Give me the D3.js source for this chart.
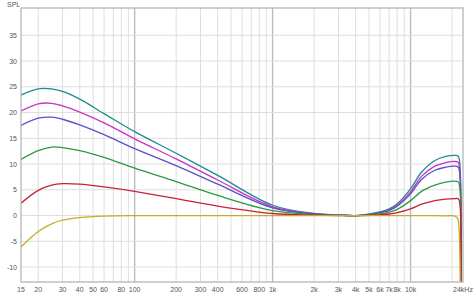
<!DOCTYPE html>
<html>
<head>
<meta charset="utf-8">
<script src="https://cdn.jsdelivr.net/npm/d3@7"></script>
<style>
  body { margin: 0; background: #fff; }
  text { font-family: "Liberation Sans", Arial, sans-serif; font-size: 7px; fill: #555; }
</style>
</head>
<body>
<div id="svg-div"></div>
<script>
// frequencies the curves were read at (Hz)
var freqs = [15, 20, 25, 30, 40, 60, 100, 200, 400, 1000, 2000, 3000, 4000, 5000, 6000, 7000, 8000, 10000, 12000, 15000, 18000, 21000, 22000, 22500, 23000];

// SPL (dB) of each curve at the frequencies above
var teal    = [23.4, 24.6, 24.6, 24.1, 22.6, 19.8, 16.3, 12.1, 7.8, 2.0, 0.4, 0.1, 0.0, 0.3, 0.7, 1.3, 2.3, 5.2, 8.4, 10.7, 11.5, 11.7, 11.6, 11.1, -20];
var magenta = [20.3, 21.7, 21.8, 21.3, 20.1, 18.0, 14.9, 11.0, 6.9, 1.7, 0.35, 0.1, 0.0, 0.25, 0.6, 1.1, 2.0, 4.6, 7.6, 9.6, 10.3, 10.5, 10.4, 9.9, -20];
var blue    = [17.5, 18.9, 19.1, 18.7, 17.6, 15.7, 13.0, 9.7, 6.1, 1.5, 0.3, 0.1, 0.0, 0.2, 0.55, 1.0, 1.8, 4.2, 7.0, 8.8, 9.4, 9.6, 9.5, 9.0, -20];
var green   = [10.9, 12.6, 13.3, 13.2, 12.6, 11.3, 9.2, 6.6, 3.9, 0.95, 0.2, 0.05, 0.0, 0.15, 0.35, 0.65, 1.2, 2.9, 4.7, 5.9, 6.5, 6.7, 6.6, 6.2, -20];
var red     = [2.4, 4.9, 5.9, 6.2, 6.1, 5.55, 4.7, 3.3, 1.85, 0.4, 0.08, 0.0, 0.0, 0.05, 0.15, 0.3, 0.55, 1.3, 2.2, 2.9, 3.2, 3.3, 3.3, 3.0, -20];
var yellow  = [-6.1, -3.1, -1.6, -0.9, -0.4, -0.12, -0.02, 0, 0, 0, 0, 0, 0, 0, 0, 0, 0, 0, 0, -0.02, -0.05, -0.1, -0.6, -3, -20];

var seriesNames  = ["teal", "magenta", "blue", "green", "red", "yellow"];
var seriesValues = [teal, magenta, blue, green, red, yellow];
var seriesColors = ["#1e8c8c", "#c832c8", "#5a50c8", "#2a9a3c", "#c8203c", "#c8aa28"];

// tick labels
var yTicks = [-10, -5, 0, 5, 10, 15, 20, 25, 30, 35];
var xLabels = [
  [15, "15"], [20, "20"], [30, "30"], [40, "40"], [50, "50"], [60, "60"], [80, "80"], [100, "100"],
  [200, "200"], [300, "300"], [400, "400"], [600, "600"], [800, "800"], [1000, "1k"],
  [2000, "2k"], [3000, "3k"], [4000, "4k"], [5000, "5k"], [6000, "6k"], [7000, "7k"], [8000, "8k"], [10000, "10k"],
  [24000, "24kHz"]
];

var margin = {top: 8, right: 11, bottom: 12, left: 21},
    width = 474 - margin.left - margin.right,
    height = 294 - margin.top - margin.bottom;

var svg = d3.select("#svg-div")
  .append("svg")
  .attr("width", width + margin.left + margin.right)
  .attr("height", height + margin.top + margin.bottom)
  .append("g")
  .attr("transform", "translate(" + margin.left + "," + margin.top + ")");

var x = d3.scaleLog().domain([15, 24000]).range([0, width]);
var y = d3.scaleLinear().domain([-12.9, 40.3]).range([height, 0]);

// vertical grid: every 1..9 x decade
var gridF = [];
[10, 100, 1000, 10000].forEach(function(dec){
  for (var m = 1; m <= 9; m++) {
    var f = dec * m;
    if (f > 15 && f < 24000) gridF.push(f);
  }
});

function isDecade(f){ return f == 100 || f == 1000 || f == 10000; }

svg.selectAll(".vgrid")
  .data(gridF)
  .enter()
  .append("line")
  .attr("x1", function(d){ return x(d); })
  .attr("x2", function(d){ return x(d); })
  .attr("y1", 0)
  .attr("y2", height)
  .style("stroke", function(d){ return isDecade(d) ? "#bdbdbd" : "#dedede"; })
  .style("stroke-width", function(d){ return isDecade(d) ? 1.4 : 1; });

svg.selectAll(".hgrid")
  .data(yTicks)
  .enter()
  .append("line")
  .attr("x1", 0)
  .attr("x2", width)
  .attr("y1", function(d){ return y(d); })
  .attr("y2", function(d){ return y(d); })
  .style("stroke", "#dedede");

svg.append("clipPath")
  .attr("id", "clip")
  .append("rect")
  .attr("width", width)
  .attr("height", height);

var line = d3.line()
  .x(function(d){ return x(d[0]); })
  .y(function(d){ return y(d[1]); })
  .curve(d3.curveCatmullRom.alpha(0.5));

svg.append("g")
  .attr("clip-path", "url(#clip)")
  .selectAll("path")
  .data(seriesValues)
  .enter()
  .append("path")
  .attr("d", function(vals){ return line(freqs.map(function(f, i){ return [f, vals[i]]; })); })
  .style("fill", "none")
  .style("stroke", function(d, i){ return seriesColors[i]; })
  .style("stroke-width", 1.3);

// frame
svg.append("rect")
  .attr("width", width)
  .attr("height", height)
  .style("fill", "none")
  .style("stroke", "#b0b0b0")
  .style("stroke-width", 1.2);

// labels
svg.selectAll(".ylab")
  .data(yTicks)
  .enter()
  .append("text")
  .attr("x", -4)
  .attr("y", function(d){ return y(d) + 2.5; })
  .attr("text-anchor", "end")
  .text(function(d){ return d; });

svg.selectAll(".xlab")
  .data(xLabels)
  .enter()
  .append("text")
  .attr("x", function(d){ return x(d[0]); })
  .attr("y", height + 9.5)
  .attr("text-anchor", "middle")
  .text(function(d){ return d[1]; });

svg.append("text")
  .attr("x", -14)
  .attr("y", -1.5)
  .text("SPL");
</script>
</body>
</html>
